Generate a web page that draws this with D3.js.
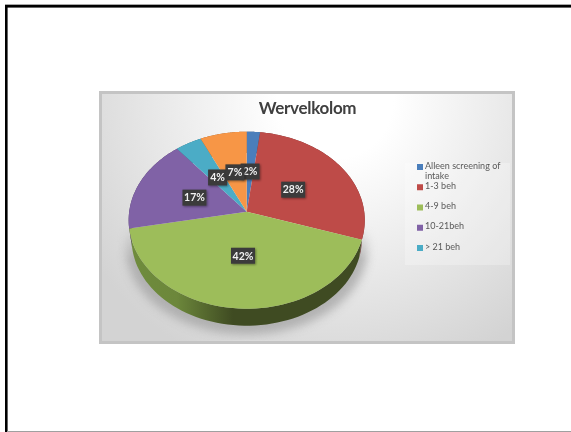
<!DOCTYPE html>
<html>
<head>
<meta charset="utf-8">
<style>
  html, body { margin: 0; padding: 0; background: #fff; overflow: hidden; }
  svg { display: block; font-family: Lato, 'Open Sans', sans-serif; }
  .chart { filter: blur(0.4px); }
</style>
</head>
<body>
<div id="vis"></div>
<script src="https://d3js.org/d3.v7.min.js"></script>
<script>
  const title = 'Wervelkolom'
  const sliceValues = [2, 28, 42, 17, 4, 7]
  const sliceColors = ['#4a7ebb', '#be4b48', '#9dbd5a', '#8062a6', '#4bacc6', '#f79646']
  const legendLines = [['Alleen screening of', 'intake'], ['1-3 beh'], ['4-9 beh'], ['10-21beh'], ['> 21 beh']]

  const width = 571, height = 432
  const box = {x: 100.5, y: 92.5, w: 413, h: 250}
  const cx = 246.7, cy = 211.7
  const R = 117.5, S = 87.7, k = 0.096  // k = perspective of the tilted disc

  const root = d3.select('#vis').append('svg')
    .attr('width', width)
    .attr('height', height)

  const defs = root.append('defs')

  const bg = defs.append('radialGradient')
    .attr('id', 'bg')
    .attr('gradientUnits', 'userSpaceOnUse')
    .attr('cx', 335).attr('cy', 100).attr('r', 290)
  bg.append('stop').attr('offset', 0.2).attr('stop-color', '#fff')
  bg.append('stop').attr('offset', 1).attr('stop-color', '#d3d3d3')

  const wall = defs.append('linearGradient')
    .attr('id', 'wall')
    .attr('gradientUnits', 'userSpaceOnUse')
    .attr('x1', 130).attr('x2', 364).attr('y1', 0).attr('y2', 0)
  wall.append('stop').attr('offset', 0).attr('stop-color', '#6f8c3d')
  wall.append('stop').attr('offset', 0.2).attr('stop-color', '#6c873b')
  wall.append('stop').attr('offset', 0.44).attr('stop-color', '#3f4b22')
  wall.append('stop').attr('offset', 1).attr('stop-color', '#3f4b22')

  defs.append('filter').attr('id', 'soft')
    .attr('x', '-20%').attr('y', '-20%').attr('width', '140%').attr('height', '140%')
    .append('feGaussianBlur').attr('stdDeviation', 5)

  const fade = defs.append('linearGradient')
    .attr('id', 'fade').attr('x1', 0).attr('x2', 0).attr('y1', 0).attr('y2', 1)
  fade.append('stop').attr('offset', 0.45).attr('stop-color', '#000')
  fade.append('stop').attr('offset', 0.62).attr('stop-color', '#fff')
  defs.append('mask').attr('id', 'shadowMask')
    .attr('maskUnits', 'userSpaceOnUse')
    .attr('x', 0).attr('y', 0).attr('width', width).attr('height', height)
    .append('rect')
    .attr('x', 100).attr('y', 130).attr('width', 300).attr('height', 210)
    .attr('fill', 'url(#fade)')

  const labelShadow = defs.append('filter').attr('id', 'labelShadow')
    .attr('x', '-30%').attr('y', '-30%').attr('width', '170%').attr('height', '170%')
  labelShadow.append('feDropShadow')
    .attr('dx', 1).attr('dy', 1).attr('stdDeviation', 1)
    .attr('flood-color', '#000').attr('flood-opacity', 0.4)

  // slide frame
  root.append('rect').attr('x', 5).attr('y', 4).attr('width', width).attr('height', 4).attr('fill', '#a8a8a8')
  root.append('rect').attr('x', 5).attr('y', 5).attr('width', width).attr('height', 2.4).attr('fill', '#000')
  root.append('rect').attr('x', 5).attr('y', 5).attr('width', 2.6).attr('height', height).attr('fill', '#000')
  root.append('rect').attr('x', 7).attr('y', 431).attr('width', width).attr('height', 1).attr('fill', '#a0a0a0')

  const svg = root.append('g').attr('class', 'chart')

  // chart area
  svg.append('rect')
    .attr('x', box.x).attr('y', box.y)
    .attr('width', box.w).attr('height', box.h)
    .attr('fill', 'url(#bg)')
    .attr('stroke', '#c4c4c4')
    .attr('stroke-width', 3)

  svg.append('text')
    .attr('x', 307.5).attr('y', 113.5)
    .attr('text-anchor', 'middle')
    .attr('font-size', 17)
    .attr('font-weight', 700)
    .attr('letter-spacing', -0.3)
    .attr('fill', '#404040')
    .text(title)

  // angle 0 = top of the disc, clockwise. f = fraction of the radius
  function project(a, f = 1, lower = false) {
    const u = Math.sin(a) * f, v = -Math.cos(a) * f
    const d = 1 - k * v
    const s = lower ? 0.975 : 1
    return [cx + s * R * u / d, cy + (lower ? 19.4 : 0) + s * S * v / d]
  }

  const pie = d3.pie().sort(null).value(d => d)
  const slices = pie(sliceValues)
  const line = d3.line()
  const steps = (a0, a1) => d3.range(0, 61).map(i => a0 + (a1 - a0) * i / 60)

  function slicePath(d) {
    return line([project(0, 0), ...steps(d.startAngle, d.endAngle).map(a => project(a))]) + 'Z'
  }

  function wallPath(d) {
    const angles = steps(d.startAngle, d.endAngle)
    return line([
      ...angles.map(a => project(a)),
      ...angles.slice().reverse().map(a => project(a, 1, true))
    ]) + 'Z'
  }

  const full = steps(0, 2 * Math.PI)

  // shadow under the disc
  svg.append('g').attr('mask', 'url(#shadowMask)')
    .append('path')
    .attr('d', line(full.map(a => {
      const p = project(a, 1, true)
      return [cx + (p[0] - cx) * 1.05, p[1] + 9]
    })) + 'Z')
    .attr('fill', '#a6a6a6')
    .attr('opacity', 0.8)
    .attr('filter', 'url(#soft)')

  svg.append('g').selectAll('path')
    .data(slices)
    .enter()
    .append('path')
    .attr('d', wallPath)
    .attr('fill', (d, i) => i === 2 ? 'url(#wall)' : d3.color(sliceColors[i]).darker(1.4))

  svg.append('g').selectAll('path')
    .data(slices)
    .enter()
    .append('path')
    .attr('d', slicePath)
    .attr('fill', (d, i) => sliceColors[i])

  // data labels
  const labels = svg.append('g').selectAll('g')
    .data(slices)
    .enter()
    .append('g')
    .attr('transform', d => {
      const p = project((d.startAngle + d.endAngle) / 2, 0.48)
      return `translate(${p[0]}, ${p[1]})`
    })

  labels.append('rect')
    .attr('x', d => d.value < 10 ? -9.5 : -12)
    .attr('y', -8)
    .attr('width', d => d.value < 10 ? 19 : 24)
    .attr('height', 16)
    .attr('fill', '#3a3a3a')
    .attr('filter', 'url(#labelShadow)')

  labels.append('text')
    .attr('text-anchor', 'middle')
    .attr('dy', '0.36em')
    .attr('font-size', 10.5)
    .attr('font-weight', 700)
    .attr('fill', '#f2f2f2')
    .text(d => d.value + '%')

  // legend
  svg.append('rect')
    .attr('x', 405).attr('y', 163)
    .attr('width', 105).attr('height', 102)
    .attr('fill', '#fff').attr('opacity', 0.25)

  const legendY = d3.scalePoint()
    .domain(d3.range(legendLines.length))
    .range([167, 248])

  const legend = svg.append('g').selectAll('g')
    .data(legendLines)
    .enter()
    .append('g')
    .attr('transform', (d, i) => `translate(417, ${legendY(i)})`)

  legend.append('rect')
    .attr('y', -3)
    .attr('width', 6)
    .attr('height', 6)
    .attr('fill', (d, i) => sliceColors[i])

  legend.selectAll('text')
    .data(d => d)
    .enter()
    .append('text')
    .attr('x', 8)
    .attr('y', (d, i) => i * 10.5 + 1.5)
    .attr('font-size', 9)
    .attr('fill', '#595959')
    .text(d => d)
</script>
</body>
</html>
